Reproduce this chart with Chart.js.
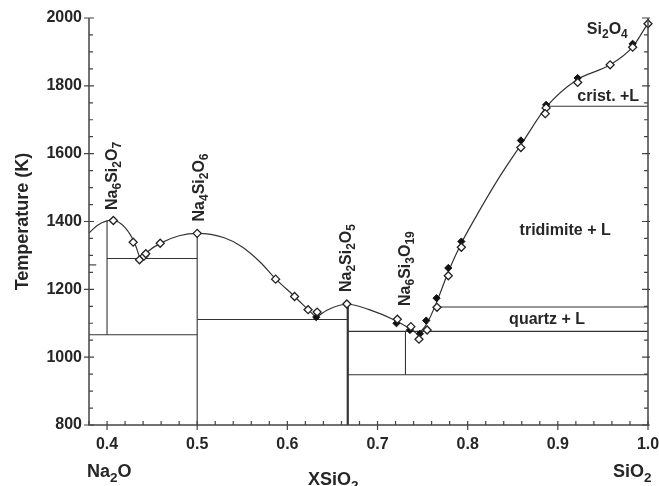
<!DOCTYPE html>
<html>
<head>
<meta charset="utf-8">
<script src="https://cdn.jsdelivr.net/npm/chart.js@4.4.0/dist/chart.umd.min.js"></script>
<style>
  html, body { margin: 0; padding: 0; background: #fff; }
  #wrap { width: 659px; height: 486px; position: relative; }
</style>
</head>
<body>
<div id="wrap"><canvas id="phaseChart"></canvas></div>
<script>
// tick values
const xTicks = [0.4, 0.5, 0.6, 0.7, 0.8, 0.9, 1.0];
const yTicks = [800, 1000, 1200, 1400, 1600, 1800, 2000];

// liquidus, split at the eutectics (x = XSiO2, y = K)
const liquidus1 = [[0.38, 1366], [0.39, 1390], [0.406, 1404], [0.42, 1382], [0.43, 1340], [0.437, 1288]];
const liquidus2 = [[0.437, 1288], [0.445, 1311], [0.46, 1337], [0.48, 1358], [0.5, 1365], [0.53, 1352],
  [0.55, 1325], [0.57, 1280], [0.587, 1231], [0.608, 1179], [0.623, 1140], [0.632, 1117]];
const liquidus3 = [[0.632, 1117], [0.645, 1140], [0.667, 1156], [0.69, 1141], [0.72, 1108], [0.735, 1085], [0.745, 1067]];
const liquidus4 = [[0.745, 1067], [0.755, 1100], [0.766, 1165], [0.779, 1255], [0.793, 1336], [0.81, 1418],
  [0.835, 1530], [0.86, 1630], [0.888, 1740], [0.92, 1816], [0.958, 1862], [0.983, 1915], [1.0, 1985]];

// measured points
const openPoints = [[0.407, 1403], [0.429, 1339], [0.436, 1287], [0.441, 1298], [0.443, 1305], [0.459, 1336],
  [0.5, 1365], [0.587, 1230], [0.608, 1179], [0.623, 1140], [0.633, 1133], [0.666, 1157], [0.722, 1112],
  [0.737, 1090], [0.746, 1053], [0.755, 1080], [0.766, 1147], [0.7785, 1240], [0.793, 1324], [0.859, 1618],
  [0.887, 1735], [0.886, 1718], [0.922, 1810], [0.958, 1862], [0.983, 1914], [1.0, 1983]];
const filledPoints = [[0.632, 1118], [0.666, 1155], [0.721, 1100], [0.736, 1080], [0.747, 1069], [0.754, 1108],
  [0.7655, 1174], [0.7785, 1263], [0.793, 1341], [0.859, 1639], [0.887, 1744], [0.922, 1823], [0.983, 1924]];

// phase boundaries: horizontal [x1, x2, T], vertical [x, T1, T2]
const boundaryH = [[0.38, 0.388, 1272], [0.4, 0.5, 1291], [0.38, 0.5, 1066], [0.5, 0.667, 1111],
  [0.667, 1.0, 1076], [0.667, 1.0, 948], [0.768, 1.0, 1148], [0.889, 1.0, 1740]];
const boundaryV = [[0.4, 1066, 1403], [0.5, 800, 1365], [0.731, 948, 1078]];
const compoundLine = [[0.667, 800], [0.667, 1157]];

const fontFam = '"Liberation Sans", Arial, sans-serif';
const ink = '#262626';
const lineCol = '#333';

function toXY(arr) {
  return arr.map(p => ({ x: p[0], y: p[1] }));
}

function lineSet(pts, width, smooth) {
  return {
    type: 'scatter',
    data: toXY(pts),
    showLine: true,
    borderColor: lineCol,
    borderWidth: width,
    pointRadius: 0,
    cubicInterpolationMode: smooth ? 'monotone' : 'default',
    tension: 0,
    order: 10
  };
}

let datasets = [];
datasets.push({
  type: 'scatter', data: toXY(openPoints), pointStyle: 'rectRot', pointRadius: 4,
  backgroundColor: '#fff', borderColor: '#222', borderWidth: 1.3, order: 1, clip: false
});
datasets.push({
  type: 'scatter', data: toXY(filledPoints), pointStyle: 'rectRot', pointRadius: 3.6,
  backgroundColor: '#111', borderColor: '#111', borderWidth: 1, order: 2, clip: false
});
[liquidus1, liquidus2, liquidus3, liquidus4].forEach(seg => datasets.push(lineSet(seg, 1.2, true)));
boundaryH.forEach(b => datasets.push(lineSet([[b[0], b[2]], [b[1], b[2]]], 1.1, false)));
boundaryV.forEach(b => datasets.push(lineSet([[b[0], b[1]], [b[0], b[2]]], 1.1, false)));
datasets.push(lineSet(compoundLine, 2.2, false));

// labels drawn on the plot (formulas get subscripts)
const formulaLabels = [
  { text: 'Na6Si2O7', x: 0.4107, y: 1434, rot: true },
  { text: 'Na4Si2O6', x: 0.5081, y: 1400, rot: true },
  { text: 'Na2Si2O5', x: 0.6709, y: 1192, rot: true },
  { text: 'Na6Si3O19', x: 0.7359, y: 1151, rot: true },
  { text: 'Si2O4', x: 0.9322, y: 1954, rot: false }
];
const phaseLabels = [
  { text: 'crist. +L', x: 0.9559, y: 1769 },
  { text: 'tridimite + L', x: 0.9081, y: 1374 },
  { text: 'quartz + L', x: 0.8881, y: 1110 }
];

// draws text, digits become subscripts
function drawFormula(ctx, text, size) {
  let parts = text.match(/(\d+|[^\d]+)/g);
  let pos = 0;
  parts.forEach(p => {
    if (/^\d+$/.test(p)) {
      ctx.font = 'bold ' + (size * 0.75) + 'px ' + fontFam;
      ctx.fillText(p, pos, size * 0.25);
    } else {
      ctx.font = 'bold ' + size + 'px ' + fontFam;
      ctx.fillText(p, pos, 0);
    }
    pos += ctx.measureText(p).width;
  });
}

const axisPlugin = {
  id: 'axisPlugin',
  afterDatasetsDraw(chart) {
    const ctx = chart.ctx;
    const xs = chart.scales.x, ys = chart.scales.y;
    const { left, right, top, bottom } = chart.chartArea;
    ctx.save();

    // axis frame (no top line)
    ctx.strokeStyle = '#444';
    ctx.lineWidth = 1.5;
    ctx.beginPath();
    ctx.moveTo(left, top);
    ctx.lineTo(left, bottom);
    ctx.lineTo(right, bottom);
    ctx.lineTo(right, top);
    ctx.stroke();

    // ticks
    ctx.lineWidth = 1.2;
    ctx.beginPath();
    for (let k = 19; k <= 50; k++) {
      let px = xs.getPixelForValue(k * 0.02);
      if (k % 5 === 0) {
        ctx.moveTo(px, bottom - 4); ctx.lineTo(px, bottom + 5);
      } else {
        ctx.moveTo(px, bottom); ctx.lineTo(px, bottom - 4);
      }
    }
    for (let t = 800; t <= 2000; t += 50) {
      let py = ys.getPixelForValue(t);
      if (t % 200 === 0) {
        ctx.moveTo(left - 5, py); ctx.lineTo(left + 5, py);
        ctx.moveTo(right - 6, py); ctx.lineTo(right + 2, py);
      } else {
        ctx.moveTo(left, py); ctx.lineTo(left + 4, py);
        ctx.moveTo(right, py); ctx.lineTo(right - 4, py);
      }
    }
    ctx.stroke();

    ctx.fillStyle = ink;
    ctx.textBaseline = 'alphabetic';
    ctx.textAlign = 'left';

    // formula labels
    formulaLabels.forEach(l => {
      ctx.save();
      ctx.translate(xs.getPixelForValue(l.x), ys.getPixelForValue(l.y));
      if (l.rot) ctx.rotate(-Math.PI / 2);
      drawFormula(ctx, l.text, 16);
      ctx.restore();
    });

    // phase field labels
    ctx.font = 'bold 16px ' + fontFam;
    ctx.textAlign = 'center';
    ctx.textBaseline = 'middle';
    phaseLabels.forEach(l => {
      ctx.fillText(l.text, xs.getPixelForValue(l.x), ys.getPixelForValue(l.y));
    });

    // axis end labels and title
    ctx.textAlign = 'left';
    ctx.textBaseline = 'alphabetic';
    [['Na2O', 87, 477], ['XSiO2', 308, 485], ['SiO2', 613, 477]].forEach(a => {
      ctx.save();
      ctx.translate(a[1], a[2]);
      drawFormula(ctx, a[0], 18);
      ctx.restore();
    });
    ctx.restore();
  }
};

new Chart(document.getElementById('phaseChart'), {
  type: 'scatter',
  data: { datasets: datasets },
  options: {
    responsive: true,
    maintainAspectRatio: false,
    animation: false,
    layout: { padding: { left: 0, right: 11, top: 18, bottom: 0 } },
    plugins: { legend: { display: false }, tooltip: { enabled: false } },
    scales: {
      x: {
        type: 'linear', min: 0.38, max: 1.0,
        grid: { display: false, drawTicks: false }, border: { display: false },
        afterBuildTicks: s => { s.ticks = xTicks.map(v => ({ value: v })); },
        afterFit: s => { s.height = 61; s.paddingLeft = 0; s.paddingRight = 0; },
        ticks: {
          padding: 10, color: ink, maxRotation: 0, autoSkip: false,
          font: { family: fontFam, size: 16, weight: 'bold' },
          callback: v => Number(v).toFixed(1)
        }
      },
      y: {
        type: 'linear', min: 800, max: 2000,
        grid: { display: false, drawTicks: false }, border: { display: false },
        afterBuildTicks: s => { s.ticks = yTicks.map(v => ({ value: v })); },
        afterFit: s => { s.width = 89; s.paddingTop = 0; s.paddingBottom = 0; },
        ticks: {
          padding: 7, color: ink,
          font: { family: fontFam, size: 16, weight: 'bold' },
          callback: v => String(v)
        },
        title: {
          display: true, text: 'Temperature (K)', color: ink,
          font: { family: fontFam, size: 18, weight: 'bold' },
          padding: { top: 12, bottom: 0 }
        }
      }
    }
  },
  plugins: [axisPlugin]
});
</script>
</body>
</html>
